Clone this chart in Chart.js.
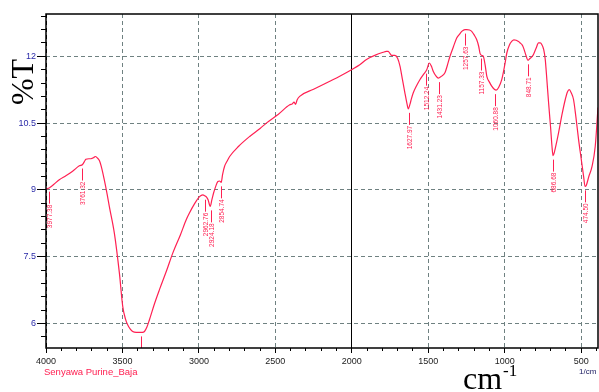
<!DOCTYPE html>
<html>
<head>
<meta charset="utf-8">
<script src="https://cdn.jsdelivr.net/npm/chart.js@4.4.0/dist/chart.umd.min.js"></script>
<style>
  body { margin: 0; background: #fff; }
  canvas { display: block; }
</style>
</head>
<body>
<canvas id="irChart" width="599" height="392"></canvas>
<script>
// Spectre IR : nombre d'onde (1/cm) et %T
const wavenumbers = [
  4000, 3977, 3950, 3913, 3870, 3826, 3782, 3761, 3745, 3739, 3720, 3706, 3690, 3678, 3665, 3651,
  3635, 3619, 3600, 3586, 3553, 3520, 3498, 3480, 3466, 3450, 3433, 3410, 3389, 3370, 3356, 3340,
  3324, 3290, 3258, 3210, 3171, 3120, 3083, 3062, 3030, 2996, 2974, 2962, 2950, 2940, 2926, 2915,
  2904, 2890, 2876, 2865, 2854, 2845, 2832, 2815, 2799, 2740, 2668, 2600, 2559, 2480, 2406, 2390,
  2378, 2368, 2358, 2341, 2250, 2144, 2070, 2002, 1948, 1904, 1850, 1795, 1775, 1762, 1750, 1740,
  1718, 1700, 1685, 1670, 1653, 1640, 1631, 1620, 1610, 1598, 1575, 1554, 1530, 1510, 1493, 1480,
  1467, 1450, 1434, 1415, 1391, 1375, 1358, 1335, 1314, 1295, 1281, 1260, 1248, 1230, 1216, 1200,
  1183, 1170, 1161, 1150, 1140, 1128, 1117, 1100, 1085, 1068, 1056, 1040, 1019, 1000, 986, 970,
  953, 940, 925, 910, 899, 885, 877, 862, 848, 835, 820, 812, 795, 779, 768, 757,
  745, 735, 725, 713, 700, 691, 684, 675, 660, 648, 625, 604, 590, 578, 565, 550,
  535, 517, 500, 484, 475, 467, 450, 429, 408, 390
];
const transmittance = [
  9.02, 9.05, 9.12, 9.23, 9.32, 9.42, 9.54, 9.57, 9.66, 9.69, 9.70, 9.70, 9.72, 9.75, 9.72, 9.66,
  9.48, 9.23, 8.90, 8.63, 8.03, 7.13, 6.38, 6.10, 5.97, 5.88, 5.82, 5.80, 5.80, 5.80, 5.82, 5.92,
  6.08, 6.45, 6.76, 7.20, 7.58, 8.00, 8.33, 8.48, 8.68, 8.85, 8.89, 8.87, 8.84, 8.78, 8.63, 8.78,
  8.93, 9.08, 9.19, 9.20, 9.17, 9.35, 9.53, 9.65, 9.75, 9.98, 10.20, 10.38, 10.50, 10.70, 10.91, 10.93,
  10.97, 10.92, 11.02, 11.10, 11.26, 11.44, 11.57, 11.70, 11.81, 11.93, 12.02, 12.09, 12.11, 12.11, 12.06, 12.02,
  12.02, 11.95, 11.78, 11.50, 11.18, 10.95, 10.82, 10.92, 11.05, 11.18, 11.35, 11.48, 11.60, 11.70, 11.85, 11.78,
  11.66, 11.56, 11.51, 11.55, 11.63, 11.80, 12.00, 12.22, 12.41, 12.50, 12.56, 12.60, 12.60, 12.59, 12.56, 12.48,
  12.37, 12.22, 12.06, 12.02, 12.00, 11.80, 11.55, 11.42, 11.33, 11.26, 11.24, 11.30, 11.48, 11.80, 12.08, 12.25,
  12.34, 12.37, 12.36, 12.33, 12.30, 12.25, 12.19, 12.03, 11.91, 11.95, 12.00, 12.04, 12.18, 12.30, 12.30, 12.26,
  12.15, 11.93, 11.50, 10.95, 10.40, 9.98, 9.77, 9.85, 10.08, 10.28, 10.70, 11.03, 11.20, 11.25, 11.18, 11.03,
  10.65, 10.13, 9.70, 9.30, 9.08, 9.10, 9.30, 9.53, 9.98, 10.85
];

// Pics annotés
const peakWavenumbers = [3977.38, 3761.32, 2962.76, 2924.18, 2854.74, 3378.00, 1627.97, 1512.24,
  1431.23, 1257.63, 1157.33, 1060.88, 848.71, 686.68, 474.50];
const peakTransmittance = [9.05, 9.57, 8.87, 8.63, 9.17, 5.80, 10.82, 11.70,
  11.51, 12.60, 12.04, 11.24, 11.91, 9.77, 9.08];

const xMajorTicks = [4000, 3500, 3000, 2500, 2000, 1500, 1000, 500];
const yMajorTicks = [6, 7.5, 9, 10.5, 12];
const sampleName = 'Senyawa Purine_Baja';
const xUnit = '1/cm';

const pink = '#ff2052';
const gridGray = '#6f8181';

let points = wavenumbers.map((w, i) => ({ x: w, y: transmittance[i] }));

// cadre, annotations des pics et textes
const decorPlugin = {
  id: 'decor',
  afterDatasetsDraw(chart) {
    const ctx = chart.ctx;
    const a = chart.chartArea;
    const xs = chart.scales.x;
    const ys = chart.scales.y;

    ctx.save();
    ctx.beginPath();
    ctx.rect(a.left, a.top, a.right - a.left, a.bottom - a.top);
    ctx.clip();
    ctx.strokeStyle = pink;
    ctx.fillStyle = pink;
    ctx.lineWidth = 1;
    ctx.font = '6.5px Arial, "Liberation Sans"';
    peakWavenumbers.forEach((w, i) => {
      let px = Math.round(xs.getPixelForValue(w)) + 0.5;
      let py = ys.getPixelForValue(peakTransmittance[i]) + 4;
      ctx.beginPath();
      ctx.moveTo(px, py);
      ctx.lineTo(px, py + 12);
      ctx.stroke();
      ctx.save();
      ctx.translate(px + 0.5, py + 13);
      ctx.rotate(-Math.PI / 2);
      ctx.textAlign = 'right';
      ctx.textBaseline = 'middle';
      ctx.fillText(w.toFixed(2), 0, 0);
      ctx.restore();
    });
    ctx.restore();

    // cadre
    ctx.save();
    ctx.strokeStyle = '#000';
    ctx.lineWidth = 1.5;
    ctx.strokeRect(a.left, a.top, a.right - a.left, a.bottom - a.top);
    ctx.restore();

    // titres
    ctx.save();
    ctx.fillStyle = '#000';
    ctx.font = '32px "Liberation Serif", "Times New Roman", serif';
    ctx.translate(33, 82);
    ctx.rotate(-Math.PI / 2);
    ctx.textAlign = 'center';
    ctx.textBaseline = 'alphabetic';
    ctx.fillText('%T', 0, 0);
    ctx.restore();

    ctx.save();
    ctx.fillStyle = '#000';
    ctx.textBaseline = 'alphabetic';
    ctx.font = '32px "Liberation Serif", "Times New Roman", serif';
    ctx.fillText('cm', 463, 389);
    ctx.font = '17px "Liberation Serif", "Times New Roman", serif';
    ctx.fillText('-1', 503, 376);

    ctx.font = '8px Arial, "Liberation Sans"';
    ctx.fillStyle = '#1a1a60';
    ctx.fillText(xUnit, 579, 374);

    ctx.fillStyle = pink;
    ctx.font = '9.5px Arial, "Liberation Sans"';
    ctx.fillText(sampleName, 44, 375);
    ctx.restore();
  }
};

let ctx = document.getElementById('irChart').getContext('2d');
let irChart = new Chart(ctx, {
  type: 'line',
  data: {
    datasets: [{
      label: sampleName,
      data: points,
      borderColor: pink,
      borderWidth: 1.2,
      pointRadius: 0,
      fill: false,
      cubicInterpolationMode: 'monotone'
    }]
  },
  options: {
    responsive: false,
    animation: false,
    events: [],
    layout: { padding: { top: 14, right: 1, left: 0, bottom: 0 } },
    plugins: {
      legend: { display: false },
      tooltip: { enabled: false }
    },
    scales: {
      x: {
        type: 'linear',
        position: 'bottom',
        reverse: true,
        min: 390,
        max: 4000,
        weight: 1,
        afterBuildTicks: s => { s.ticks = xMajorTicks.map(v => ({ value: v })); },
        afterFit: s => { s.height = 44; },
        ticks: {
          color: '#222',
          font: { family: 'Arial', size: 9 },
          padding: 3,
          maxRotation: 0,
          autoSkip: false,
          callback: v => v
        },
        grid: {
          color: c => (c.tick && (c.tick.value === 2000 || c.tick.value === 4000)) ? '#000' : gridGray,
          lineWidth: 1,
          tickLength: 5,
          tickColor: '#000'
        },
        border: {
          display: false,
          dash: c => (c.tick && c.tick.value !== 2000) ? [4, 3] : []
        }
      },
      xMinor: {
        type: 'linear',
        position: 'bottom',
        reverse: true,
        min: 390,
        max: 4000,
        weight: 0,
        afterBuildTicks: s => {
          let t = [];
          for (let v = 4000; v >= 400; v -= 100) t.push({ value: v });
          s.ticks = t;
        },
        afterFit: s => { s.height = 0; },
        ticks: { display: false },
        grid: { drawOnChartArea: false, tickLength: 3, tickColor: '#000' },
        border: { display: false }
      },
      y: {
        type: 'linear',
        position: 'left',
        min: 5.45,
        max: 12.95,
        weight: 1,
        afterBuildTicks: s => { s.ticks = yMajorTicks.map(v => ({ value: v })); },
        afterFit: s => { s.width = 46; },
        ticks: {
          color: '#2a2aa8',
          font: { family: 'Arial', size: 9 },
          padding: 1,
          callback: v => v
        },
        grid: {
          color: gridGray,
          lineWidth: 1,
          tickLength: 9,
          tickColor: '#000'
        },
        border: {
          display: false,
          dash: c => c.tick ? [4, 3] : []
        }
      },
      yMinor: {
        type: 'linear',
        position: 'left',
        min: 5.45,
        max: 12.95,
        weight: 0,
        afterBuildTicks: s => {
          let t = [];
          for (let k = 19; k <= 43; k++) t.push({ value: k * 0.3 });
          s.ticks = t;
        },
        afterFit: s => { s.width = 0; },
        ticks: { display: false },
        grid: { drawOnChartArea: false, tickLength: 5, tickColor: '#000' },
        border: { display: false }
      }
    }
  },
  plugins: [decorPlugin]
});
</script>
</body>
</html>
